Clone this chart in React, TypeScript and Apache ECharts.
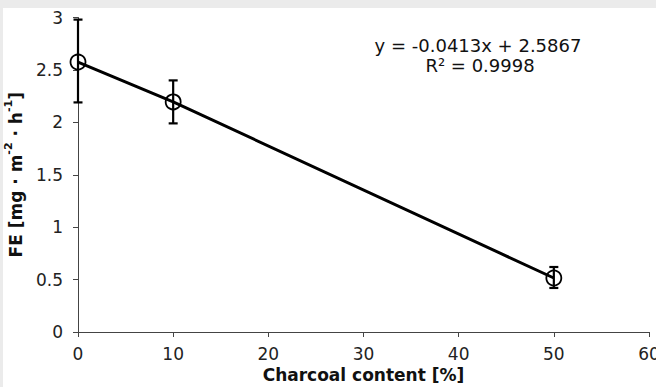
import React, { useEffect, useRef } from "react";
import * as echarts from "echarts";

// Charcoal content (%) and measured flux (FE) with error-bar limits
const charcoal = [0, 10, 50];
const fe = [2.575, 2.195, 0.515];
const feLow = [2.19, 1.99, 0.42];
const feHigh = [2.98, 2.4, 0.62];
const xTicks = [0, 10, 20, 30, 40, 50, 60];
const yTicks = [0, 0.5, 1, 1.5, 2, 2.5, 3];
const equation = "y = -0.0413x + 2.5867";
const rSquared = "R² = 0.9998";

const FONT = "'DejaVu Sans', Arial, sans-serif";

export default function App() {
  const ref = useRef<HTMLDivElement>(null);

  useEffect(() => {
    if (!ref.current) return;
    const chart = echarts.init(ref.current, undefined, { renderer: "svg" });

    const points = charcoal.map((x, i) => [x, fe[i]]);
    const bars = charcoal.map((x, i) => [x, feLow[i], feHigh[i]]);

    chart.setOption({
      animation: false,
      backgroundColor: "#ffffff",
      textStyle: { fontFamily: FONT },
      grid: {
        left: 75,
        right: 7,
        top: 9.5,
        bottom: 55,
        containLabel: false,
        outerBoundsMode: "none",
      },
      xAxis: {
        type: "value",
        min: xTicks[0],
        max: xTicks[xTicks.length - 1],
        interval: 10,
        name: "Charcoal content [%]",
        nameLocation: "middle",
        nameGap: 34,
        nameTextStyle: { fontFamily: FONT, fontSize: 17, fontWeight: "bold", color: "#111" },
        axisLine: { lineStyle: { color: "#444", width: 1 } },
        axisTick: { show: true, length: 5, inside: false, lineStyle: { color: "#444" } },
        axisLabel: { fontFamily: FONT, fontSize: 17, color: "#222", margin: 13, showMaxLabel: true },
        splitLine: { show: false },
      },
      yAxis: {
        type: "value",
        min: yTicks[0],
        max: yTicks[yTicks.length - 1],
        interval: 0.5,
        name: "{b|FE [mg · m}{s|-2}{b| · h}{s|-1}{b|]}",
        nameLocation: "middle",
        nameGap: 54,
        nameRotate: 90,
        nameTextStyle: {
          rich: {
            b: { fontFamily: FONT, fontSize: 17, fontWeight: "bold", color: "#111", lineHeight: 21, verticalAlign: "bottom" },
            s: { fontFamily: FONT, fontSize: 11, fontWeight: "bold", color: "#111", lineHeight: 21, verticalAlign: "top" },
          },
        },
        axisLine: { show: true, lineStyle: { color: "#444", width: 1 } },
        axisTick: { show: true, length: 5, inside: false, lineStyle: { color: "#444" } },
        axisLabel: { fontFamily: FONT, fontSize: 17, color: "#222", margin: 15 },
        splitLine: { show: false },
      },
      graphic: [
        {
          type: "text",
          x: 475,
          y: 37,
          style: { text: equation, font: `18px ${FONT}`, fill: "#111", align: "center", verticalAlign: "middle" },
        },
        {
          type: "text",
          x: 477,
          y: 57,
          style: { text: rSquared, font: `18px ${FONT}`, fill: "#111", align: "center", verticalAlign: "middle" },
        },
      ],
      series: [
        {
          type: "line",
          data: points,
          symbol: "circle",
          symbolSize: 15,
          lineStyle: { color: "#000", width: 3 },
          itemStyle: { color: "rgba(255,255,255,0)", borderColor: "#000", borderWidth: 1.8 },
          z: 2,
        },
        {
          type: "custom",
          data: bars,
          z: 3,
          renderItem: (params: any, api: any) => {
            const x = api.value(0);
            const lo = api.coord([x, api.value(1)]);
            const hi = api.coord([x, api.value(2)]);
            const cap = 4.5;
            const style = { stroke: "#000", lineWidth: 2.2 };
            return {
              type: "group",
              children: [
                { type: "line", shape: { x1: lo[0], y1: lo[1], x2: hi[0], y2: hi[1] }, style },
                { type: "line", shape: { x1: hi[0] - cap, y1: hi[1], x2: hi[0] + cap, y2: hi[1] }, style },
                { type: "line", shape: { x1: lo[0] - cap, y1: lo[1], x2: lo[0] + cap, y2: lo[1] }, style },
              ],
            };
          },
        },
      ],
    });

    return () => chart.dispose();
  }, []);

  return (
    <div
      style={{
        position: "absolute",
        left: 0,
        top: 0,
        width: 656,
        height: 387,
        background: "#ebebeb",
        overflow: "hidden",
      }}
    >
      <div
        ref={ref}
        style={{ position: "absolute", left: 3, top: 8, width: 653, height: 379, background: "#fff" }}
      />
    </div>
  );
}
